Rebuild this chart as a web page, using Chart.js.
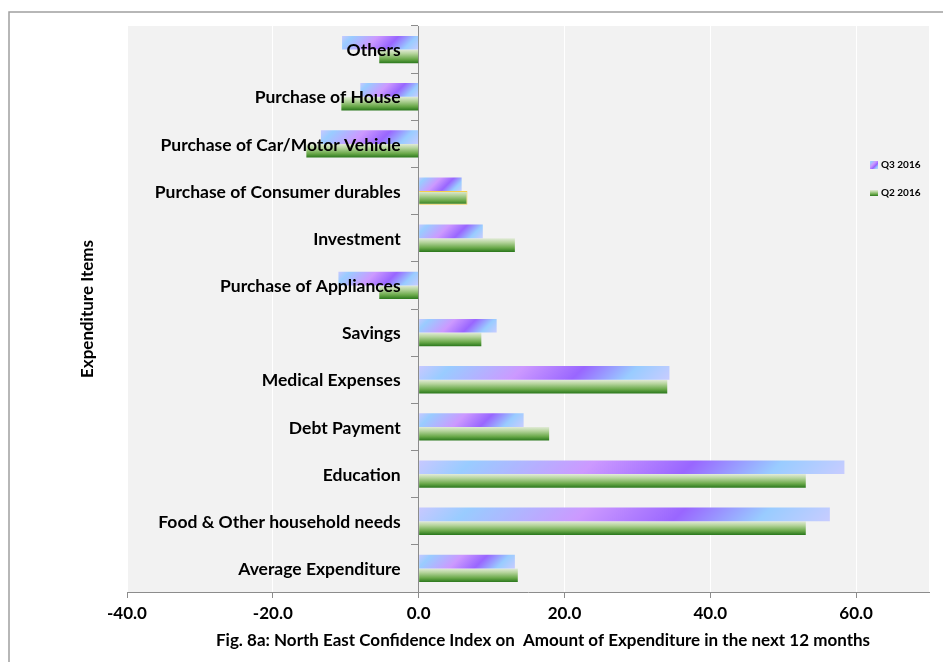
<!DOCTYPE html>
<html>
<head>
<meta charset="utf-8">
<script src="https://cdn.jsdelivr.net/npm/chart.js@4.4.0/dist/chart.umd.min.js"></script>
<style>
  html, body { margin: 0; padding: 0; background: #fff; }
</style>
</head>
<body>
<canvas id="expenditureChart" width="943" height="662"></canvas>
<script>
// Expenditure items, listed top to bottom
const categories = [
  'Others',
  'Purchase of House',
  'Purchase of Car/Motor Vehicle',
  'Purchase of Consumer durables',
  'Investment',
  'Purchase of Appliances',
  'Savings',
  'Medical Expenses',
  'Debt Payment',
  'Education',
  'Food & Other household needs',
  'Average Expenditure',
];
const q3Values = [-10.5, -8.0, -13.4, 5.9, 8.8, -11.0, 10.7, 34.4, 14.4, 58.4, 56.4, 13.2];
const q2Values = [-5.4, -10.6, -15.4, 6.7, 13.2, -5.4, 8.6, 34.1, 17.9, 53.1, 53.1, 13.6];
const seriesNames = ['Q3 2016', 'Q2 2016'];
const xTicks = [-40, -20, 0, 20, 40, 60];

const CATEGORY_PCT = 0.58;
const FONT = 'Lato, "Open Sans", sans-serif';
const AXIS_GREY = '#8c8c8c';

Chart.defaults.font.family = FONT;
Chart.defaults.color = '#000';

// pixel box of one bar, worked out from the scales
function barRect(chart, dsIndex, index, value) {
  const xs = chart.scales.x;
  const ys = chart.scales.y;
  const slot = (ys.bottom - ys.top) / categories.length;
  const thick = slot * CATEGORY_PCT / 2;
  const mid = ys.getPixelForValue(index);
  const top = dsIndex === 0 ? mid - thick : mid;
  const a = xs.getPixelForValue(0);
  const b = xs.getPixelForValue(value);
  return { left: Math.min(a, b), right: Math.max(a, b), top, bottom: top + thick };
}

function purpleGradient(c, left, top, w, h) {
  const d = (w + h) / 2;
  const g = c.createLinearGradient(left, top, left + d, top + d);
  g.addColorStop(0, '#c8c8ff');
  g.addColorStop(0.12, '#99ccff');
  g.addColorStop(0.4, '#cc99ff');
  g.addColorStop(0.63, '#9966ff');
  g.addColorStop(0.83, '#99ccff');
  g.addColorStop(1, '#c8ccff');
  return g;
}

function greenGradient(c, top, bottom) {
  const g = c.createLinearGradient(0, top, 0, bottom);
  g.addColorStop(0, '#e2ebd8');
  g.addColorStop(0.3, '#b5d49c');
  g.addColorStop(0.7, '#6aa94a');
  g.addColorStop(1, '#2a771c');
  return g;
}

function q3Fill(ctx) {
  const chart = ctx.chart;
  if (ctx.type !== 'data' || !chart.chartArea) return '#9966ff';
  const r = barRect(chart, 0, ctx.dataIndex, ctx.raw);
  return purpleGradient(chart.ctx, r.left, r.top, r.right - r.left, r.bottom - r.top);
}

function q2Fill(ctx) {
  const chart = ctx.chart;
  if (ctx.type !== 'data' || !chart.chartArea) return '#6aa94a';
  const r = barRect(chart, 1, ctx.dataIndex, ctx.raw);
  return greenGradient(chart.ctx, r.top, r.bottom);
}

// grey plot background and the outer frame lines
const backdrop = {
  id: 'backdrop',
  beforeDraw(chart) {
    const { ctx, chartArea: a } = chart;
    ctx.save();
    ctx.fillStyle = '#f2f2f2';
    ctx.fillRect(a.left, a.top, a.right - a.left, a.bottom - a.top);
    ctx.strokeStyle = '#a0a0a0';
    ctx.lineWidth = 1.5;
    ctx.beginPath();
    ctx.moveTo(9, chart.height);
    ctx.lineTo(9, 12);
    ctx.lineTo(chart.width, 12);
    ctx.stroke();
    ctx.restore();
  },
};

// category names sit left of the zero line, on top of the bars
const categoryLabels = {
  id: 'categoryLabels',
  afterDatasetsDraw(chart) {
    const { ctx } = chart;
    const xs = chart.scales.x;
    const ys = chart.scales.y;
    const x = xs.getPixelForValue(0) - 18;
    ctx.save();
    ctx.font = 'bold 17.5px ' + FONT;
    ctx.fillStyle = '#000';
    ctx.textAlign = 'right';
    ctx.textBaseline = 'middle';
    categories.forEach((name, i) => {
      ctx.fillText(name, x, ys.getPixelForValue(i) + 1);
    });
    ctx.restore();
  },
};

// axis title, caption and the small legend
const annotations = {
  id: 'annotations',
  afterDraw(chart) {
    const { ctx } = chart;
    ctx.save();
    ctx.fillStyle = '#000';

    ctx.font = 'bold 17px ' + FONT;
    ctx.textAlign = 'center';
    ctx.textBaseline = 'middle';
    ctx.translate(88, 309);
    ctx.rotate(-Math.PI / 2);
    ctx.fillText('Expenditure Items', 0, 0);
    ctx.setTransform(1, 0, 0, 1, 0, 0);

    const caption = 'Fig. 8a: North East Confidence Index on  Amount of Expenditure in the next 12 months';
    ctx.font = 'bold 17px ' + FONT;
    const w = ctx.measureText(caption).width;
    ctx.translate(543, 641);
    ctx.scale(Math.min(1, 660 / w), 1);
    ctx.fillText(caption, 0, 0);
    ctx.setTransform(1, 0, 0, 1, 0, 0);

    ctx.font = 'bold 10px ' + FONT;
    ctx.textAlign = 'left';
    seriesNames.forEach((name, i) => {
      const y = 165 + i * 28;
      ctx.fillStyle = i === 0 ? purpleGradient(ctx, 870, y - 4, 8, 8) : greenGradient(ctx, y - 3, y + 3);
      if (i === 0) ctx.fillRect(870, y - 4, 8, 8);
      else ctx.fillRect(870, y - 3, 8, 6);
      ctx.fillStyle = '#000';
      ctx.fillText(name, 881, y);
    });
    ctx.restore();
  },
};

new Chart(document.getElementById('expenditureChart'), {
  type: 'bar',
  data: {
    labels: categories,
    datasets: [
      {
        label: seriesNames[0],
        data: q3Values,
        backgroundColor: q3Fill,
        borderWidth: 0,
        categoryPercentage: CATEGORY_PCT,
        barPercentage: 1,
      },
      {
        label: seriesNames[1],
        data: q2Values,
        backgroundColor: q2Fill,
        borderColor: '#f5cf4a',
        borderWidth: (ctx) => (ctx.dataIndex === 3 ? 1 : 0),
        categoryPercentage: CATEGORY_PCT,
        barPercentage: 1,
      },
    ],
  },
  options: {
    indexAxis: 'y',
    responsive: false,
    animation: false,
    devicePixelRatio: 1,
    layout: {
      padding: { left: 127, top: 26, right: 14, bottom: 0 },
    },
    plugins: {
      legend: { display: false },
      tooltip: { enabled: false },
    },
    scales: {
      x: {
        type: 'linear',
        min: -40,
        max: 70,
        afterBuildTicks: (scale) => {
          scale.ticks = xTicks.map((v) => ({ value: v }));
        },
        afterFit: (scale) => {
          scale.height = 70;
        },
        ticks: {
          callback: (v) => Number(v).toFixed(1),
          font: { size: 17, weight: 'bold' },
          color: '#000',
          padding: 5,
          maxRotation: 0,
        },
        grid: {
          color: '#ffffff',
          tickColor: AXIS_GREY,
          tickLength: 6,
        },
        border: { color: AXIS_GREY, width: 1 },
      },
      y: {
        type: 'category',
        position: { x: 0 },
        grid: {
          drawOnChartArea: false,
          tickColor: AXIS_GREY,
          tickLength: 7,
          offset: true,
        },
        border: { color: AXIS_GREY, width: 1 },
        ticks: { display: false, autoSkip: false },
      },
    },
  },
  plugins: [backdrop, categoryLabels, annotations],
});
</script>
</body>
</html>
